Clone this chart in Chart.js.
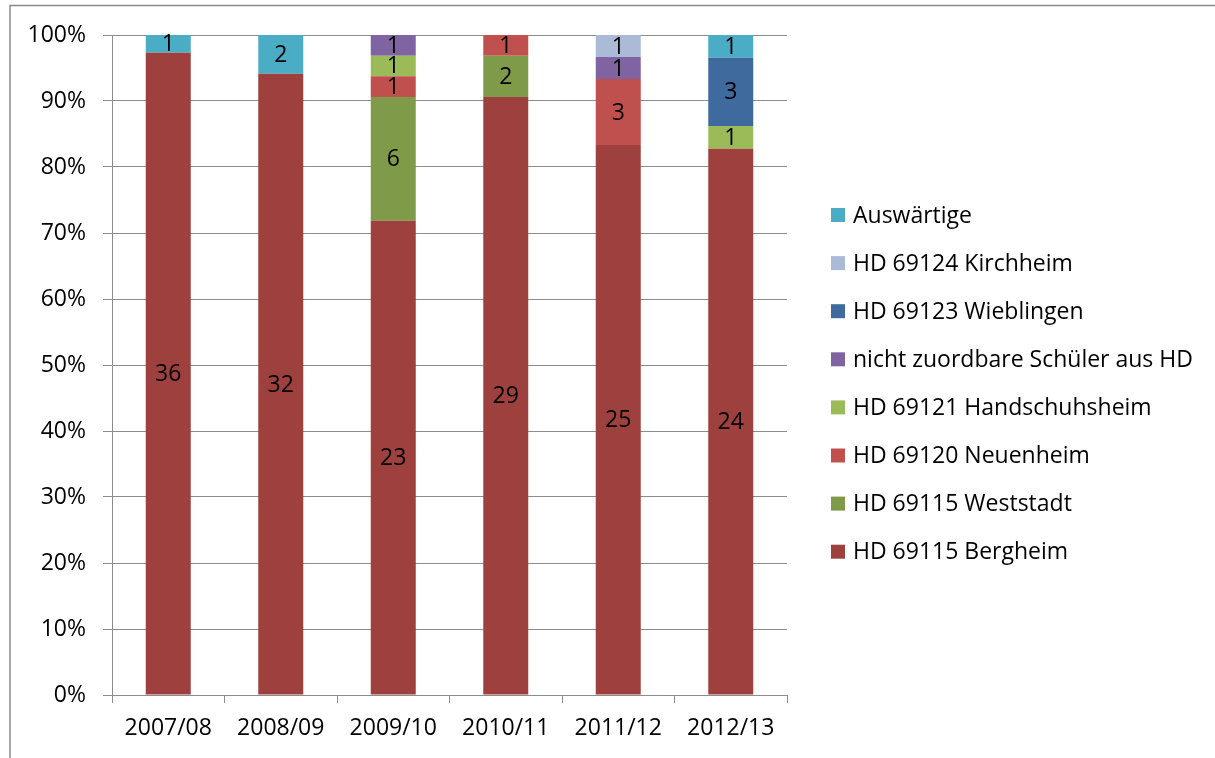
<!DOCTYPE html>
<html>
<head>
<meta charset="utf-8">
<style>
  html, body { margin: 0; padding: 0; background: #ffffff; }
  #wrap { width: 1215px; height: 758px; position: relative; }
</style>
<script src="https://cdn.jsdelivr.net/npm/chart.js@4/dist/chart.umd.min.js"></script>
</head>
<body>
<div id="wrap"><canvas id="c" width="1215" height="758"></canvas></div>
<script>
// School years
const categories = ['2007/08', '2008/09', '2009/10', '2010/11', '2011/12', '2012/13'];

// Pupils per district (counts), bottom of the stack first
const bergheim       = [36, 32, 23, 29, 25, 24];
const weststadt      = [0, 0, 6, 2, 0, 0];
const neuenheim      = [0, 0, 1, 1, 3, 0];
const handschuhsheim = [0, 0, 1, 0, 0, 1];
const nichtZuordbar  = [0, 0, 1, 0, 1, 0];
const wieblingen     = [0, 0, 0, 0, 0, 3];
const kirchheim      = [0, 0, 0, 0, 1, 0];
const auswaertige    = [1, 2, 0, 0, 0, 1];

const seriesNames = [
  'HD 69115 Bergheim',
  'HD 69115 Weststadt',
  'HD 69120 Neuenheim',
  'HD 69121 Handschuhsheim',
  'nicht zuordbare Schüler aus HD',
  'HD 69123 Wieblingen',
  'HD 69124 Kirchheim',
  'Auswärtige'
];
const seriesCounts = [bergheim, weststadt, neuenheim, handschuhsheim, nichtZuordbar, wieblingen, kirchheim, auswaertige];
const seriesColors = ['#9E413E', '#7F9A48', '#C0504D', '#9BBB59', '#8064A2', '#3F6A9E', '#AABAD7', '#4BACC6'];

// y-axis tick values in percent
const yTicks = [0, 10, 20, 30, 40, 50, 60, 70, 80, 90, 100];

const FONT_FAMILY = "'Open Sans', 'Noto Sans', sans-serif";
const FONT_SIZE = 23;
const GRID = '#8c8c8c';

// totals per year, used to turn counts into shares of 100 %
const totals = categories.map((_, i) => seriesCounts.reduce((s, arr) => s + arr[i], 0));

const datasets = seriesNames.map((name, k) => ({
  label: name,
  counts: seriesCounts[k],
  data: seriesCounts[k].map((v, i) => v / totals[i] * 100),
  backgroundColor: seriesColors[k],
  borderWidth: 0,
  barPercentage: 0.4,
  categoryPercentage: 1.0
}));

// count labels centred inside each segment
const segmentLabels = {
  id: 'segmentLabels',
  afterDatasetsDraw(chart) {
    const ctx = chart.ctx;
    ctx.save();
    ctx.font = FONT_SIZE + 'px ' + FONT_FAMILY;
    ctx.fillStyle = '#000000';
    ctx.textAlign = 'center';
    ctx.textBaseline = 'middle';
    chart.data.datasets.forEach((ds, k) => {
      const meta = chart.getDatasetMeta(k);
      meta.data.forEach((bar, i) => {
        const n = ds.counts[i];
        if (!n) return;
        ctx.fillText(String(n), bar.x, (bar.y + bar.base) / 2 + 1);
      });
    });
    ctx.restore();
  }
};

// legend on the right, top entry = top of the stack
const sideLegend = {
  id: 'sideLegend',
  afterDraw(chart) {
    const ctx = chart.ctx;
    const items = chart.data.datasets.map((ds) => ({ label: ds.label, color: ds.backgroundColor })).reverse();
    ctx.save();
    ctx.font = FONT_SIZE + 'px ' + FONT_FAMILY;
    ctx.textAlign = 'left';
    ctx.textBaseline = 'middle';
    items.forEach((it, i) => {
      const cy = 215 + i * 48.1;
      ctx.fillStyle = it.color;
      ctx.fillRect(831, cy - 7, 14, 14);
      ctx.fillStyle = '#000000';
      ctx.fillText(it.label, 853, cy + 1);
    });
    ctx.restore();
  }
};

// outer chart frame (top and left edge)
const frame = {
  id: 'frame',
  beforeDraw(chart) {
    const ctx = chart.ctx;
    ctx.save();
    ctx.fillStyle = '#ffffff';
    ctx.fillRect(0, 0, chart.width, chart.height);
    ctx.strokeStyle = '#8a8a8a';
    ctx.lineWidth = 1.5;
    ctx.beginPath();
    ctx.moveTo(10, chart.height);
    ctx.lineTo(10, 5.5);
    ctx.lineTo(chart.width, 5.5);
    ctx.stroke();
    ctx.restore();
  }
};

new Chart(document.getElementById('c'), {
  type: 'bar',
  data: { labels: categories, datasets },
  options: {
    responsive: false,
    animation: false,
    devicePixelRatio: 1,
    layout: { padding: { top: 35, right: 428, bottom: 0, left: 0 } },
    plugins: {
      legend: { display: false },
      tooltip: { enabled: false }
    },
    scales: {
      x: {
        stacked: true,
        offset: true,
        afterFit(scale) { scale.height = 63; },
        grid: {
          offset: true,
          drawOnChartArea: false,
          drawTicks: true,
          tickLength: 8,
          color: GRID,
          lineWidth: 1
        },
        border: { display: true, color: GRID, width: 1 },
        ticks: {
          color: '#000000',
          padding: 12,
          maxRotation: 0,
          font: { family: FONT_FAMILY, size: FONT_SIZE }
        }
      },
      y: {
        stacked: true,
        min: 0,
        max: 100,
        afterFit(scale) { scale.width = 112; },
        afterBuildTicks(scale) { scale.ticks = yTicks.map((v) => ({ value: v })); },
        grid: {
          drawTicks: true,
          tickLength: 9,
          color: GRID,
          lineWidth: 1
        },
        border: { display: true, color: GRID, width: 1 },
        ticks: {
          color: '#000000',
          padding: 17,
          font: { family: FONT_FAMILY, size: FONT_SIZE },
          callback: (v) => v + '%'
        }
      }
    }
  },
  plugins: [frame, segmentLabels, sideLegend]
});
</script>
</body>
</html>
